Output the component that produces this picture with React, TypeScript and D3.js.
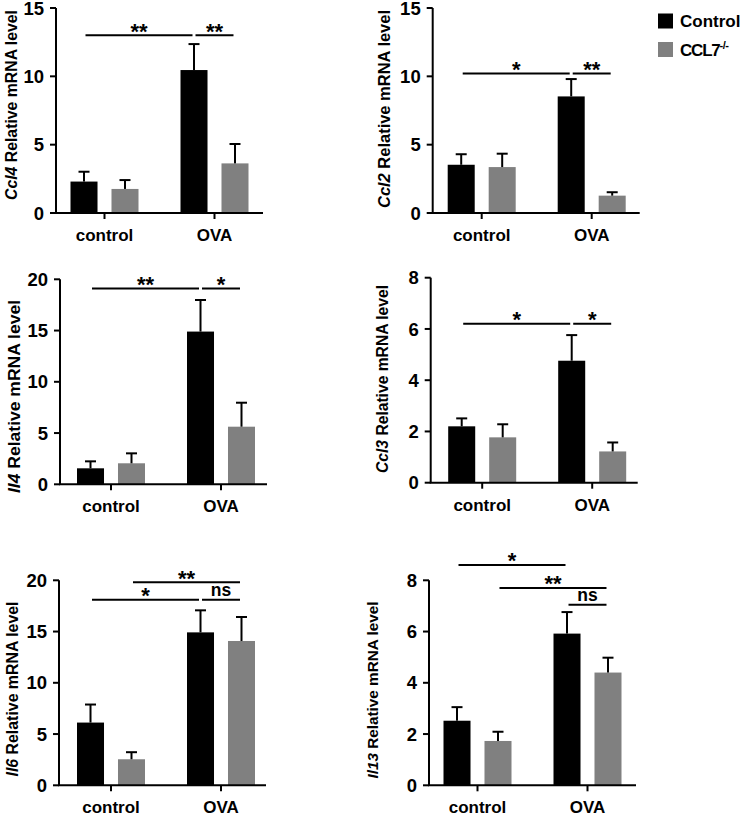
import React from "react";
import * as d3 from "d3";

const groups = ["control", "OVA"];
const seriesNames = ["Control", "CCL7"];
const seriesColors = ["#000000", "#808080"];

// Ccl4
const ccl4Control = [2.3, 10.46];
const ccl4ControlErr = [0.72, 1.9];
const ccl4Ko = [1.76, 3.63];
const ccl4KoErr = [0.65, 1.42];
// Ccl2
const ccl2Control = [3.53, 8.53];
const ccl2ControlErr = [0.77, 1.27];
const ccl2Ko = [3.36, 1.27];
const ccl2KoErr = [0.98, 0.25];
// Il4
const il4Control = [1.56, 14.9];
const il4ControlErr = [0.68, 3.08];
const il4Ko = [2.05, 5.62];
const il4KoErr = [0.97, 2.34];
// Ccl3
const ccl3Control = [2.2, 4.76];
const ccl3ControlErr = [0.31, 1.0];
const ccl3Ko = [1.77, 1.22];
const ccl3KoErr = [0.51, 0.35];
// Il6
const il6Control = [6.12, 14.92];
const il6ControlErr = [1.76, 2.15];
const il6Ko = [2.54, 14.08];
const il6KoErr = [0.69, 2.34];
// Il13
const il13Control = [2.52, 5.92];
const il13ControlErr = [0.53, 0.84];
const il13Ko = [1.73, 4.4];
const il13KoErr = [0.36, 0.58];

const ticks15 = [0, 5, 10, 15];
const ticks20 = [0, 5, 10, 15, 20];
const ticks8 = [0, 2, 4, 6, 8];

type Sig = { a: [number, number]; b: [number, number]; level: number; label: string };

const ccl4Sig: Sig[] = [
  { a: [0, 0], b: [1, 0], level: 13, label: "**" },
  { a: [1, 0], b: [1, 1], level: 13, label: "**" },
];
const ccl2Sig: Sig[] = [
  { a: [0, 0], b: [1, 0], level: 10.2, label: "*" },
  { a: [1, 0], b: [1, 1], level: 10.2, label: "**" },
];
const il4Sig: Sig[] = [
  { a: [0, 0], b: [1, 0], level: 19.1, label: "**" },
  { a: [1, 0], b: [1, 1], level: 19.1, label: "*" },
];
const ccl3Sig: Sig[] = [
  { a: [0, 0], b: [1, 0], level: 6.2, label: "*" },
  { a: [1, 0], b: [1, 1], level: 6.2, label: "*" },
];
const il6Sig: Sig[] = [
  { a: [0, 0], b: [1, 0], level: 18.1, label: "*" },
  { a: [1, 0], b: [1, 1], level: 18.1, label: "ns" },
  { a: [0, 1], b: [1, 1], level: 19.8, label: "**" },
];
const il13Sig: Sig[] = [
  { a: [0, 0], b: [1, 0], level: 8.6, label: "*" },
  { a: [0, 1], b: [1, 1], level: 7.7, label: "**" },
  { a: [1, 0], b: [1, 1], level: 7.05, label: "ns" },
];

const FONT = "'Liberation Sans', Arial, Helvetica, sans-serif";
const PLOT_H = 205;
const AXIS_W = 207;

type Layout = { x: number; y0: number; gx: number; lx: number; ly: number; ls: number; len: number };

type PanelProps = {
  gene: string;
  control: number[];
  controlErr: number[];
  ko: number[];
  koErr: number[];
  ticks: number[];
  sig: Sig[];
  L: Layout;
};

function Panel({ gene, control, controlErr, ko, koErr, ticks, sig, L }: PanelProps) {
  const yMax = ticks[ticks.length - 1];
  const y = d3.scaleLinear().domain([0, yMax]).range([L.y0, L.y0 - PLOT_H]);
  const x = d3
    .scaleBand()
    .domain(groups)
    .range([L.x + L.gx - 55, L.x + L.gx + 165])
    .padding(0);
  const inner = d3.scaleBand().domain(seriesNames).range([-34, 34]).paddingInner(0.341).paddingOuter(0);
  const gc = (gi: number) => (x(groups[gi]) as number) + x.bandwidth() / 2;
  const bc = (gi: number, si: number) =>
    gc(gi) + (inner(seriesNames[si]) as number) + inner.bandwidth() / 2;
  const means = [control, ko];
  const errs = [controlErr, koErr];
  const bw = inner.bandwidth();

  return (
    <g>
      {means.map((vals, si) =>
        vals.map((v, gi) => (
          <rect
            key={`b${si}${gi}`}
            x={bc(gi, si) - bw / 2}
            y={y(v)}
            width={bw}
            height={y(0) - y(v)}
            fill={seriesColors[si]}
          />
        ))
      )}
      {means.map((vals, si) =>
        vals.map((v, gi) => {
          const cx = bc(gi, si);
          const top = y(v + errs[si][gi]);
          return (
            <g key={`e${si}${gi}`} stroke="#000" strokeWidth={2}>
              <line x1={cx} x2={cx} y1={y(v)} y2={top} />
              <line x1={cx - 5.5} x2={cx + 5.5} y1={top} y2={top} />
            </g>
          );
        })
      )}
      <line x1={L.x} x2={L.x} y1={y(0)} y2={y(yMax)} stroke="#000" strokeWidth={2} />
      <line x1={L.x - 1} x2={L.x + AXIS_W} y1={y(0)} y2={y(0)} stroke="#000" strokeWidth={2} />
      {ticks.map((t) => (
        <g key={`t${t}`}>
          <line x1={L.x - 6} x2={L.x} y1={y(t)} y2={y(t)} stroke="#000" strokeWidth={2} />
          <text
            x={L.x - 12}
            y={y(t)}
            dy="0.36em"
            textAnchor="end"
            fontFamily={FONT}
            fontWeight="bold"
            fontSize={18.5}
            fill="#000"
          >
            {t}
          </text>
        </g>
      ))}
      {groups.map((g, gi) => (
        <g key={g}>
          <line x1={gc(gi)} x2={gc(gi)} y1={y(0)} y2={y(0) + 6} stroke="#000" strokeWidth={2} />
          <text
            x={gc(gi)}
            y={y(0) + 28}
            textAnchor="middle"
            fontFamily={FONT}
            fontWeight="bold"
            fontSize={17}
            fill="#000"
          >
            {g}
          </text>
        </g>
      ))}
      <text
        transform={`translate(${L.lx},${L.ly}) rotate(-90)`}
        textAnchor="middle"
        fontFamily={FONT}
        fontWeight="bold"
        fontSize={L.ls}
        textLength={L.len}
        lengthAdjust="spacingAndGlyphs"
        fill="#000"
      >
        <tspan fontStyle="italic">{gene}</tspan> Relative mRNA level
      </text>
      {sig.map((s, i) => {
        const x1 = bc(s.a[0], s.a[1]) + 1.5;
        const x2 = bc(s.b[0], s.b[1]) - 1.5;
        const ly = y(s.level);
        const isNs = s.label === "ns";
        return (
          <g key={`s${i}`}>
            <line x1={x1} x2={x2} y1={ly} y2={ly} stroke="#000" strokeWidth={2} />
            <text
              x={(x1 + x2) / 2}
              y={isNs ? ly - 3.5 : ly + 3.5}
              textAnchor="middle"
              fontFamily={FONT}
              fontWeight="bold"
              fontSize={isNs ? 17.5 : 22}
              fill="#000"
            >
              {s.label}
            </text>
          </g>
        );
      })}
    </g>
  );
}

const layouts: Layout[] = [
  { x: 56, y0: 213, gx: 48.5, lx: 17, ly: 105, ls: 15.7, len: 190 },
  { x: 432.7, y0: 213, gx: 49, lx: 390, ly: 109, ls: 16.3, len: 198 },
  { x: 60, y0: 484.3, gx: 51, lx: 20, ly: 396.5, ls: 16.8, len: 193 },
  { x: 430.7, y0: 482.7, gx: 51.5, lx: 388, ly: 379, ls: 15.6, len: 188 },
  { x: 59, y0: 785.3, gx: 52, lx: 18.3, ly: 689, ls: 15.8, len: 175 },
  { x: 429, y0: 785.3, gx: 48.5, lx: 378, ly: 690, ls: 15.3, len: 177 },
];

export default function App() {
  return (
    <svg
      width={742}
      height={816}
      viewBox="0 0 742 816"
      style={{ position: "absolute", left: 0, top: 0, background: "#fff" }}
    >
      <rect x={0} y={0} width={742} height={816} fill="#fff" />
      <Panel gene="Ccl4" control={ccl4Control} controlErr={ccl4ControlErr} ko={ccl4Ko} koErr={ccl4KoErr} ticks={ticks15} sig={ccl4Sig} L={layouts[0]} />
      <Panel gene="Ccl2" control={ccl2Control} controlErr={ccl2ControlErr} ko={ccl2Ko} koErr={ccl2KoErr} ticks={ticks15} sig={ccl2Sig} L={layouts[1]} />
      <Panel gene="Il4" control={il4Control} controlErr={il4ControlErr} ko={il4Ko} koErr={il4KoErr} ticks={ticks20} sig={il4Sig} L={layouts[2]} />
      <Panel gene="Ccl3" control={ccl3Control} controlErr={ccl3ControlErr} ko={ccl3Ko} koErr={ccl3KoErr} ticks={ticks8} sig={ccl3Sig} L={layouts[3]} />
      <Panel gene="Il6" control={il6Control} controlErr={il6ControlErr} ko={il6Ko} koErr={il6KoErr} ticks={ticks20} sig={il6Sig} L={layouts[4]} />
      <Panel gene="Il13" control={il13Control} controlErr={il13ControlErr} ko={il13Ko} koErr={il13KoErr} ticks={ticks8} sig={il13Sig} L={layouts[5]} />
      {seriesNames.map((s, i) => (
        <g key={s}>
          <rect x={658} y={13.5 + i * 28.5} width={15} height={15} fill={seriesColors[i]} />
          <text
            x={680}
            y={27 + i * 28.5}
            fontFamily={FONT}
            fontWeight="bold"
            fontSize={17}
            letterSpacing={i === 1 ? -1.2 : 0}
            fill="#000"
          >
            {s}
            {i === 1 ? (
              <tspan dy={-7} fontSize={11} letterSpacing={-0.5}>
                -/-
              </tspan>
            ) : null}
          </text>
        </g>
      ))}
    </svg>
  );
}
